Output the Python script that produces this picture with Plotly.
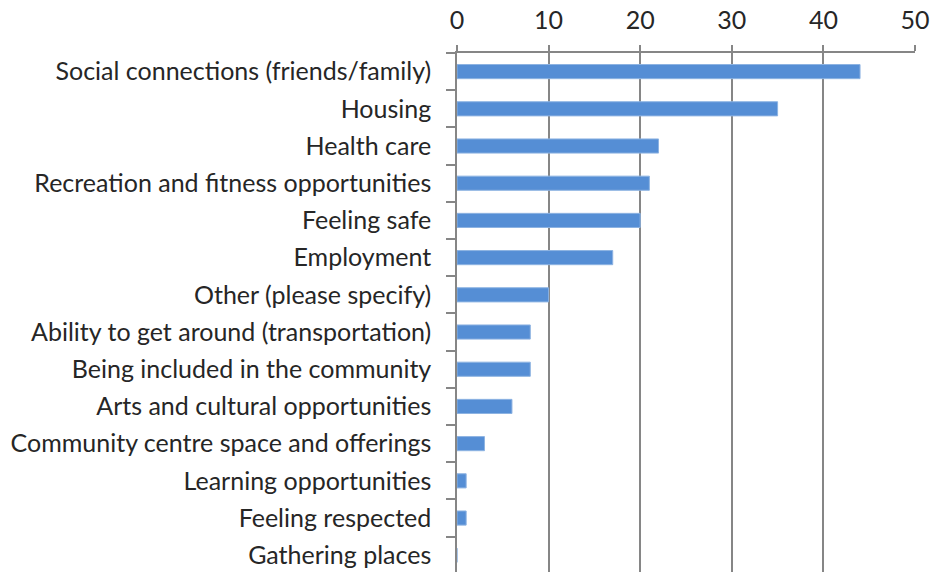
import plotly.graph_objects as go

categories = [
    "Social connections (friends/family)",
    "Housing",
    "Health care",
    "Recreation and fitness opportunities",
    "Feeling safe",
    "Employment",
    "Other (please specify)",
    "Ability to get around (transportation)",
    "Being included in the community",
    "Arts and cultural opportunities",
    "Community centre space and offerings",
    "Learning opportunities",
    "Feeling respected",
    "Gathering places",
]
values = [44, 35, 22, 21, 20, 17, 10, 8, 8, 6, 3, 1, 1, 0]
x_ticks = [0, 10, 20, 30, 40, 50]

fig = go.Figure(
    go.Bar(
        x=values,
        y=categories,
        orientation="h",
        marker=dict(color="#558ED5", line=dict(color="#8DB3E2", width=1)),
        width=0.38,
    )
)

font_family = "Lato, 'Open Sans', sans-serif"
fig.update_layout(
    width=931,
    height=572,
    margin=dict(l=457, r=16, t=53, b=0),
    plot_bgcolor="white",
    paper_bgcolor="white",
    font=dict(family=font_family, size=25, color="#262626"),
    showlegend=False,
)
fig.update_xaxes(
    side="top",
    range=[0, 50],
    tickvals=x_ticks,
    showgrid=True,
    gridcolor="#868686",
    gridwidth=1.5,
    showline=True,
    linecolor="#868686",
    linewidth=1.5,
    ticks="outside",
    ticklen=6,
    tickcolor="#868686",
    tickwidth=1.5,
    zeroline=False,
    ticklabelstandoff=6,
    automargin=False,
)
fig.update_yaxes(
    type="category",
    categoryorder="array",
    categoryarray=categories,
    range=[13.45, -0.5],
    showgrid=False,
    showline=True,
    linecolor="#868686",
    linewidth=1.5,
    ticks="outside",
    ticklen=9,
    tickcolor="#868686",
    tickwidth=1.5,
    tickson="boundaries",
    ticklabelstandoff=19,
    automargin=False,
)

fig.write_html(
    "out.html",
    config={"displayModeBar": False},
    post_script="document.body.style.margin='0';document.body.style.overflow='hidden';",
)
